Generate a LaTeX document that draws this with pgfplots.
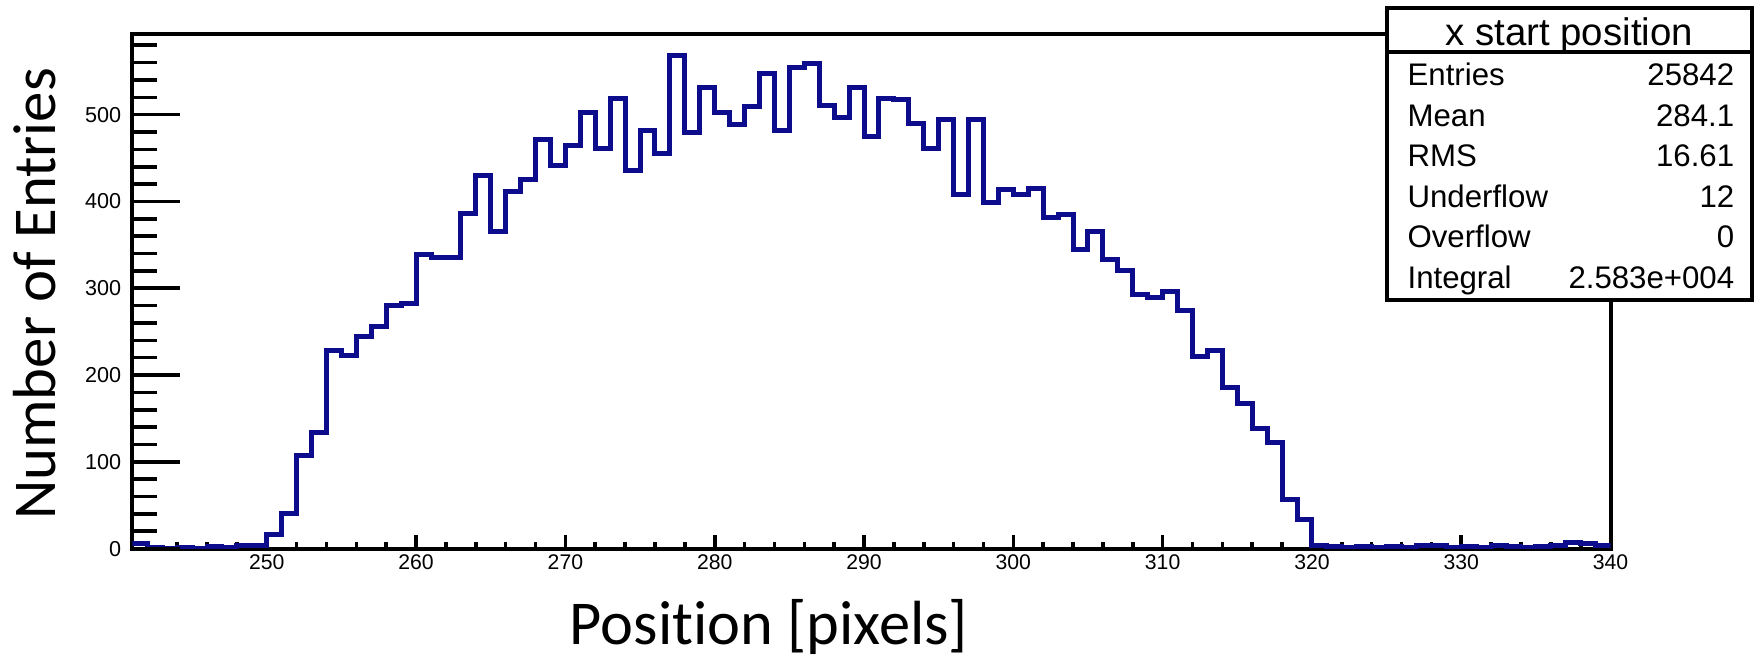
\documentclass[border=0pt]{standalone}
\usepackage{fontspec}
\setmainfont{Liberation Sans}
\newfontfamily\carlito[Ligatures={NoCommon}]{Carlito}
\usepackage{pgfplots}
\pgfplotsset{compat=1.18}
\definecolor{histblue}{RGB}{12,12,140}

\begin{document}
\begin{tikzpicture}
\useasboundingbox (0,0) rectangle (440pt,165.75pt);
\begin{axis}[
  at={(33.1pt,28.6pt)}, anchor=south west,
  scale only axis, width=369.55pt, height=128.65pt,
  xmin=241, xmax=340, ymin=0, ymax=593,
  axis line style={line width=1pt},
  xtick={240,250,...,340}, minor x tick num=4,
  ytick=\empty,
  xtick pos=left, tick align=inside,
  major tick length=3.4pt, minor tick length=1.6pt,
  every tick/.style={black, line width=0.9pt},
  /pgf/number format/assume math mode=true,
  xticklabel style={font=\fontsize{5.3}{6}\selectfont, inner sep=0pt, yshift=-1.3pt},
]
\addplot[const plot, histblue, line width=1.25pt] coordinates {
(241,6) (242,1) (243,0) (244,1) (245,0) (246,2) (247,1) (248,3) (249,3)
(250,16) (251,41) (252,107) (253,134) (254,228) (255,222) (256,244) (257,256) (258,280) (259,282)
(260,339) (261,336) (262,336) (263,386) (264,430) (265,365) (266,412) (267,425) (268,471) (269,441)
(270,465) (271,503) (272,461) (273,519) (274,436) (275,482) (276,455) (277,568) (278,480) (279,531)
(280,503) (281,489) (282,509) (283,547) (284,482) (285,554) (286,559) (287,511) (288,497) (289,531)
(290,475) (291,519) (292,517) (293,490) (294,461) (295,494) (296,408) (297,495) (298,399) (299,414)
(300,408) (301,415) (302,381) (303,385) (304,345) (305,365) (306,333) (307,320) (308,293) (309,289)
(310,296) (311,274) (312,221) (313,228) (314,186) (315,167) (316,138) (317,122) (318,57) (319,34)
(320,3) (321,2) (322,1) (323,2) (324,1) (325,2) (326,1) (327,4) (328,3) (329,1)
(330,2) (331,1) (332,3) (333,2) (334,1) (335,2) (336,3) (337,7) (338,6) (339,4) (340,4)
};
\end{axis}
\begin{axis}[
  at={(33.1pt,28.6pt)}, anchor=south west,
  scale only axis, width=369.55pt, height=128.65pt,
  xmin=241, xmax=340, ymin=0, ymax=593,
  axis line style={draw=none},
  xtick=\empty,
  ytick={0,100,...,600}, minor y tick num=4,
  ytick pos=left, tick align=inside,
  major tick length=12pt, minor tick length=6.25pt,
  every tick/.style={black, line width=0.9pt},
  /pgf/number format/assume math mode=true,
  yticklabel style={font=\fontsize{5.4}{6}\selectfont, inner sep=0pt, xshift=-2.6pt},
]
\end{axis}
\node[rotate=90, anchor=base, font=\carlito\fontsize{15.2}{18}\selectfont] at (13.75pt,92.25pt) {Number of Entries};
\node[anchor=base, font=\carlito\fontsize{15.6}{18}\selectfont] at (192.25pt,4.5pt) {Position [pixels]};
% statistics box
\draw[line width=1pt, fill=white] (346.7pt,90.75pt) rectangle (437.9pt,163.7pt);
\draw[line width=1pt] (346.7pt,152.8pt) -- (437.9pt,152.8pt);
\node[anchor=base, font=\fontsize{9.6}{11}\selectfont] at (392.3pt,154.3pt) {x start position};
\begin{scope}[every node/.style={font=\fontsize{7.8}{9}\selectfont, inner sep=0pt}]
\node[anchor=base west] at (351.7pt,144.25pt) {Entries};
\node[anchor=base east] at (433.75pt,144.25pt) {25842};
\node[anchor=base west] at (351.7pt,134.1pt) {Mean};
\node[anchor=base east] at (433.75pt,134.1pt) {284.1};
\node[anchor=base west] at (351.7pt,124pt) {RMS};
\node[anchor=base east] at (433.75pt,124pt) {16.61};
\node[anchor=base west] at (351.7pt,113.9pt) {Underflow};
\node[anchor=base east] at (433.75pt,113.9pt) {12};
\node[anchor=base west] at (351.7pt,103.75pt) {Overflow};
\node[anchor=base east] at (433.75pt,103.75pt) {0};
\node[anchor=base west] at (351.7pt,93.6pt) {Integral};
\node[anchor=base east] at (433.75pt,93.6pt) {2.583e+004};
\end{scope}
\end{tikzpicture}
\end{document}
